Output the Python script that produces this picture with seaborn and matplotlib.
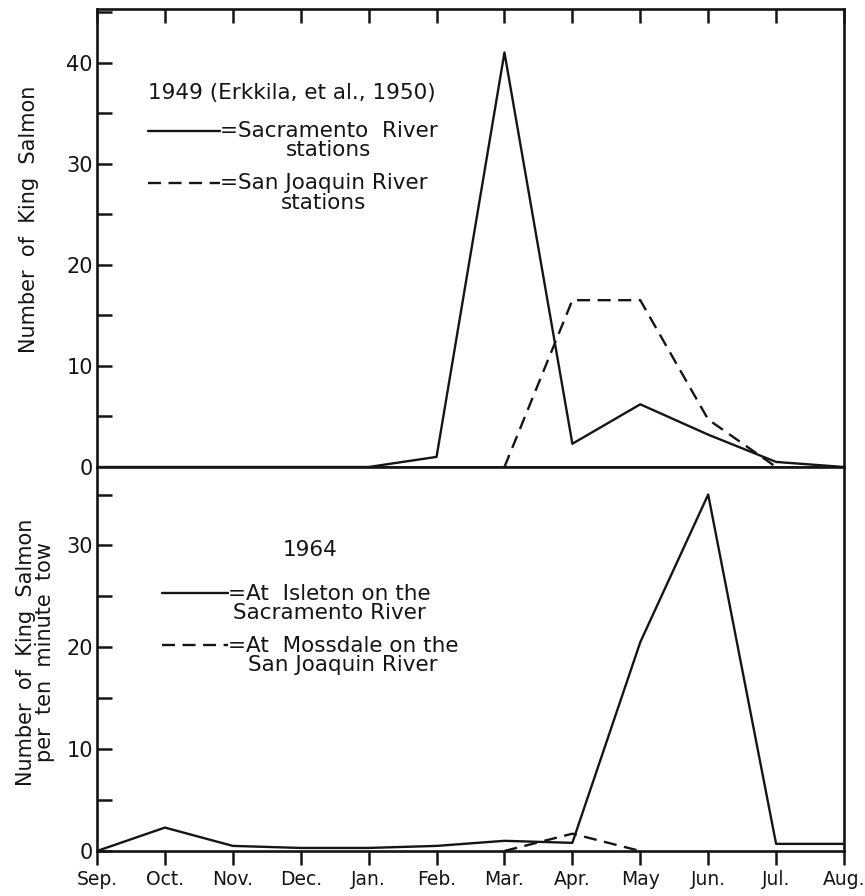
import numpy as np
import pandas as pd
import matplotlib
matplotlib.use("Agg")
import matplotlib.pyplot as plt
from matplotlib.ticker import MultipleLocator, FuncFormatter
import seaborn as sns

# month axis (September to August)
months = ["Sep.", "Oct.", "Nov.", "Dec.", "Jan.", "Feb.", "Mar.", "Apr.", "May", "Jun.", "Jul.", "Aug."]

# 1949 (Erkkila et al., 1950)
sacramento_1949 = [0, 0, 0, 0, 0, 1.0, 41, 2.3, 6.2, 3.2, 0.5, 0]
san_joaquin_1949 = [np.nan, np.nan, np.nan, np.nan, np.nan, np.nan, 0, 16.5, 16.5, 4.7, 0, np.nan]

# 1964, catch per ten minute tow
isleton_1964 = [0, 2.3, 0.5, 0.3, 0.3, 0.5, 1.0, 0.8, 20.5, 35, 0.7, 0.7]
mossdale_1964 = [np.nan, np.nan, np.nan, np.nan, np.nan, np.nan, 0, 1.7, 0, np.nan, np.nan, np.nan]

sns.set_style("ticks")
plt.rcParams["font.family"] = ["DejaVu Sans"]

INK = "#151515"
FS = 15.5      # key text
TFS = 13.5     # tick labels
DASH = (0, (5.5, 3.2))

fig = plt.figure(figsize=(8.65, 8.96), dpi=100)
W, H = 865, 896
left, right = 97, 844
ax1 = fig.add_axes([left / W, (H - 467) / H, (right - left) / W, (467 - 9) / H])
ax2 = fig.add_axes([left / W, (H - 851) / H, (right - left) / W, (851 - 467) / H])

x = np.arange(len(months))
df49 = pd.DataFrame({"m": x, "sac": sacramento_1949, "sj": san_joaquin_1949})
df64 = pd.DataFrame({"m": x, "isl": isleton_1964, "mos": mossdale_1964})

sns.lineplot(data=df49, x="m", y="sac", ax=ax1, color=INK, linewidth=1.7)
sns.lineplot(data=df49.dropna(), x="m", y="sj", ax=ax1, color=INK, linewidth=1.7, linestyle=DASH)
sns.lineplot(data=df64, x="m", y="isl", ax=ax2, color=INK, linewidth=1.7)
sns.lineplot(data=df64.dropna(), x="m", y="mos", ax=ax2, color=INK, linewidth=1.7, linestyle=DASH)

ten_only = FuncFormatter(lambda v, p: f"{int(v)}" if int(round(v)) % 10 == 0 else "")

for ax, ymax in ((ax1, 45.3), (ax2, 37.7)):
    ax.set_xlim(0, 11)
    ax.set_ylim(0, ymax)
    ax.set_xlabel("")
    for s in ax.spines.values():
        s.set_visible(True)
        s.set_linewidth(1.9)
        s.set_color(INK)
    ax.yaxis.set_major_locator(MultipleLocator(5))
    ax.yaxis.set_major_formatter(ten_only)
    ax.tick_params(axis="y", direction="in", length=11, width=1.8, pad=3,
                   labelsize=TFS + 1.5, colors=INK)
    ax.set_xticks(x)

ax1.tick_params(axis="x", bottom=False, top=True, direction="in", length=10, width=1.8,
                labelbottom=False, labeltop=False, colors=INK)
ax2.set_xticklabels(months)
ax2.tick_params(axis="x", direction="out", length=10, width=1.8, pad=4,
                labelsize=TFS, colors=INK)

ax1.set_ylabel("Number  of  King  Salmon", fontsize=15, color=INK)
ax2.set_ylabel("Number  of  King  Salmon\nper  ten  minute  tow", fontsize=15,
               color=INK, linespacing=0.95)
ax1.yaxis.set_label_coords(-0.077, 0.54)
ax2.yaxis.set_label_coords(-0.056, 0.518)


def key(ax, title, labels, anchor, hlen, title_gap):
    handles = [ax.lines[0], ax.lines[1]]
    leg = ax.legend(handles=handles, labels=labels, title=title, loc="upper left",
                    bbox_to_anchor=anchor, frameon=False, fontsize=FS,
                    title_fontsize=FS, handlelength=hlen, handletextpad=0.0,
                    labelspacing=0.6, borderpad=0, borderaxespad=0)
    for t in leg.get_texts():
        t.set_multialignment("center")
        t.set_linespacing(0.95)
        t.set_color(INK)
    leg.get_title().set_color(INK)
    leg._legend_box.sep = title_gap
    # put the key line level with the first text line
    for h in leg.legend_handles:
        h.set_ydata(np.asarray(h.get_ydata()) + 0.5 * FS)
    return leg


l1 = key(ax1, "1949 (Erkkila, et al., 1950)",
         ["=Sacramento  River\nstations", "=San Joaquin River\nstations"],
         (0.068, 0.838), 3.35, 13)
l1._legend_box.align = "left"
l2 = key(ax2, "1964",
         ["=At  Isleton on the\nSacramento River", "=At  Mossdale on the\nSan Joaquin River"],
         (0.087, 0.81), 3.05, 17)

fig.savefig("out.png", dpi=100)
